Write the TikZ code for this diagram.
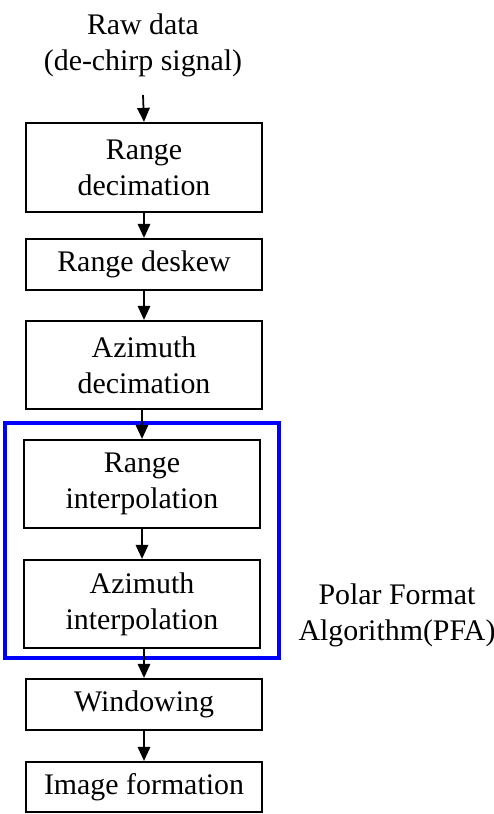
\documentclass[tikz,border=0pt]{standalone}
\usepackage{fontspec}
\setmainfont{Liberation Serif}
\usepackage{xcolor}
\definecolor{pfablue}{RGB}{0,0,255}
\usetikzlibrary{arrows.meta,positioning}

\begin{document}
\begin{tikzpicture}[
  txt/.style={font=\fontsize{17}{20.5}\selectfont, align=center},
  blockbox/.style={txt, draw=black, line width=1.25pt, minimum width=4.72cm, inner sep=0pt},
  flow/.style={-{Triangle[length=2.8mm,width=2.5mm]}, line width=1pt}
]
  \useasboundingbox (0,0) rectangle (9.86,16.28);

  % Input
  \node[txt] (raw) at (2.86,15.38) {Raw data\\(de-chirp signal)};
  \coordinate (rawout) at (2.86,14.38);

  % Pre-processing
  \node[blockbox, minimum height=1.78cm] (rdec) at (2.88,12.93) {Range\\decimation};
  \node[blockbox, minimum height=1.02cm] (rdesk) at (2.88,10.99) {Range deskew};
  \node[blockbox, minimum height=1.76cm] (adec) at (2.88,8.98) {Azimuth\\decimation};

  % PFA block
  \node[blockbox, minimum height=1.76cm] (rint) at (2.84,6.60) {Range\\interpolation};
  \node[blockbox, minimum height=1.76cm] (aint) at (2.84,4.20) {Azimuth\\interpolation};
  \draw[pfablue, line width=2pt] (0.10,3.12) rectangle (5.58,7.82);
  \node[txt] (pfa) at (7.94,3.98) {Polar Format\\Algorithm(PFA)};

  % Output
  \node[blockbox, minimum height=1.02cm] (win) at (2.88,2.19) {Windowing};
  \node[blockbox, minimum height=1.0cm] (img) at (2.88,0.54) {Image formation};

  %--- Arrows ---
  \draw[flow] (rawout) -- (rdec.north);
  \draw[flow] (rdec.south) -- (rdesk.north);
  \draw[flow] (rdesk.south) -- (adec.north);
  \draw[flow] (adec.south -| rint.north) -- (rint.north);
  \draw[flow] (rint.south) -- (aint.north);
  \draw[flow] (aint.south -| win.north) -- (win.north);
  \draw[flow] (win.south) -- (img.north);
\end{tikzpicture}
\end{document}
